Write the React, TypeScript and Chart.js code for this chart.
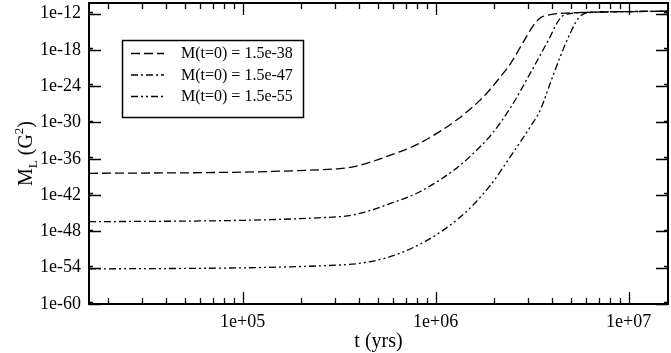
import React, { useEffect, useRef } from "react";
import { Chart, registerables } from "chart.js";

Chart.register(...registerables);

const FONT = "'Liberation Serif', 'Times New Roman', serif";

// time (years) for each series, and log10(M_L) values
const tA = [1.6e4, 3.13e5, 6.56e5, 8.34e5, 1.29e6, 1.70e6, 1.92e6, 2.16e6, 2.44e6, 2.86e6, 3.22e6, 3.49e6, 3.93e6, 4.99e6, 7.13e6, 1.6e7];
const mA = [-38.4, -37.66, -34.8, -33.36, -29.55, -26.3, -24.5, -22.5, -20.3, -16.6, -13.9, -12.71, -12.17, -11.89, -11.75, -11.6];

const tB = [1.6e4, 3.21e5, 6.56e5, 8.34e5, 1.29e6, 1.51e6, 1.92e6, 2.44e6, 3.10e6, 3.93e6, 4.26e6, 4.52e6, 4.99e6, 6.31e6, 1.6e7];
const mB = [-46.4, -45.56, -42.8, -41.4, -37.5, -35.6, -32.2, -27.6, -21.8, -15.76, -13.54, -12.45, -12.0, -11.8, -11.6];

const tC = [1.6e4, 3.21e5, 6.56e5, 1.29e6, 1.92e6, 2.44e6, 3.10e6, 3.49e6, 3.93e6, 4.43e6, 4.99e6, 5.51e6, 6.08e6, 7.94e6, 1.6e7];
const mC = [-54.2, -53.55, -51.6, -46.1, -40.4, -35.63, -30.66, -27.9, -23.47, -19.07, -15.2, -12.71, -11.88, -11.7, -11.6];

const seriesLabels = ["M(t=0) = 1.5e-38", "M(t=0) = 1.5e-47", "M(t=0) = 1.5e-55"];
const seriesDashes = [[9, 4], [7, 3, 2, 3], [7, 3, 2, 3, 2, 3]];

const xMajor = [1e5, 1e6, 1e7];
const xTickLabels = ["1e+05", "1e+06", "1e+07"];
const yTicks = [-60, -54, -48, -42, -36, -30, -24, -18, -12];

const overlay = {
  id: "overlay",
  afterDraw(chart: any) {
    const ctx = chart.ctx;
    const { left, right, top, bottom } = chart.chartArea;
    const xs = chart.scales.x;
    const ys = chart.scales.y;
    ctx.save();
    ctx.strokeStyle = "#000";
    ctx.fillStyle = "#000";
    // frame
    ctx.lineWidth = 2;
    ctx.strokeRect(left, top, right - left, bottom - top);
    // x ticks
    ctx.lineWidth = 1.3;
    ctx.beginPath();
    for (let d = 1e4; d <= 1e7; d *= 10) {
      for (let k = 1; k <= 9; k++) {
        const v = d * k;
        if (v < xs.min || v > xs.max) continue;
        const px = Math.round(xs.getPixelForValue(v)) + 0.5;
        const len = k === 1 ? 12 : 6;
        ctx.moveTo(px, bottom);
        ctx.lineTo(px, bottom - len);
        ctx.moveTo(px, top);
        ctx.lineTo(px, top + len);
      }
    }
    // y ticks
    for (const v of yTicks) {
      const py = Math.round(ys.getPixelForValue(v)) + 0.5;
      ctx.moveTo(left, py);
      ctx.lineTo(left + 12, py);
      ctx.moveTo(right, py);
      ctx.lineTo(right - 12, py);
      const py2 = Math.round(ys.getPixelForValue(v + 0.3)) + 0.5;
      if (v + 0.3 < ys.max) {
        ctx.moveTo(left, py2);
        ctx.lineTo(left + 4, py2);
        ctx.moveTo(right, py2);
        ctx.lineTo(right - 4, py2);
      }
    }
    ctx.stroke();

    // legend
    ctx.lineWidth = 1.5;
    ctx.strokeRect(122.5, 40.5, 181, 77);
    ctx.font = `16px ${FONT}`;
    ctx.textBaseline = "middle";
    ctx.textAlign = "left";
    const rows = [53, 74.5, 96];
    rows.forEach((ry, i) => {
      ctx.save();
      ctx.lineWidth = 1.3;
      ctx.setLineDash(seriesDashes[i]);
      ctx.beginPath();
      ctx.moveTo(131, ry + 0.5);
      ctx.lineTo(164, ry + 0.5);
      ctx.stroke();
      ctx.restore();
      ctx.fillText(seriesLabels[i], 181, ry + 1);
    });

    // x title
    ctx.font = `20px ${FONT}`;
    ctx.textAlign = "center";
    ctx.textBaseline = "alphabetic";
    ctx.fillText("t (yrs)", (left + right) / 2, 347);

    // y title (rotated, with subscript and superscript)
    ctx.save();
    ctx.translate(32, (top + bottom) / 2);
    ctx.rotate(-Math.PI / 2);
    const big = `20px ${FONT}`;
    const small = `13px ${FONT}`;
    const parts = [
      { t: "M", f: big, dy: 0 },
      { t: "L", f: small, dy: 5 },
      { t: " (G", f: big, dy: 0 },
      { t: "2", f: small, dy: -9 },
      { t: ")", f: big, dy: 0 },
    ];
    let total = 0;
    for (const p of parts) {
      ctx.font = p.f;
      total += ctx.measureText(p.t).width;
    }
    let cx = -total / 2;
    ctx.textAlign = "left";
    for (const p of parts) {
      ctx.font = p.f;
      ctx.fillText(p.t, cx, p.dy);
      cx += ctx.measureText(p.t).width;
    }
    ctx.restore();
    ctx.restore();
  },
};

export default function App() {
  const ref = useRef<HTMLCanvasElement | null>(null);
  useEffect(() => {
    document.body.style.margin = "0";
    const mk = (t: number[], m: number[]) => t.map((x, i) => ({ x, y: m[i] }));
    const data = [mk(tA, mA), mk(tB, mB), mk(tC, mC)];
    const chart = new Chart(ref.current as HTMLCanvasElement, {
      type: "line",
      data: {
        datasets: data.map((d, i) => ({
          label: seriesLabels[i],
          data: d,
          borderColor: "#000",
          borderWidth: 1.3,
          borderDash: seriesDashes[i],
          pointRadius: 0,
          fill: false,
          cubicInterpolationMode: "monotone" as const,
        })),
      },
      options: {
        responsive: false,
        animation: false,
        devicePixelRatio: 1,
        layout: { padding: { top: 3, right: 3, left: 0, bottom: 0 } },
        plugins: { legend: { display: false }, tooltip: { enabled: false } },
        scales: {
          x: {
            type: "logarithmic",
            min: 1.6e4,
            max: 1.6e7,
            afterBuildTicks: (s: any) => {
              s.ticks = xMajor.map((v) => ({ value: v }));
            },
            afterFit: (s: any) => {
              s.height = 49;
              s.paddingLeft = 0;
              s.paddingRight = 0;
              s.paddingTop = 0;
              s.paddingBottom = 0;
            },
            grid: { display: false, drawTicks: false },
            border: { display: false },
            ticks: {
              autoSkip: false,
              maxRotation: 0,
              padding: 7,
              color: "#000",
              font: { family: FONT, size: 18 },
              callback: (v: any) => {
                const i = xMajor.indexOf(Number(v));
                return i >= 0 ? xTickLabels[i] : "";
              },
            },
          },
          y: {
            type: "linear",
            min: -60,
            max: -10.25,
            afterBuildTicks: (s: any) => {
              s.ticks = yTicks.map((v) => ({ value: v }));
            },
            afterFit: (s: any) => {
              s.width = 89;
              s.paddingLeft = 0;
              s.paddingRight = 0;
              s.paddingTop = 0;
              s.paddingBottom = 0;
            },
            grid: { display: false, drawTicks: false },
            border: { display: false },
            ticks: {
              padding: 8,
              color: "#000",
              font: { family: FONT, size: 18 },
              callback: (v: any) => `1e${v}`,
            },
          },
        },
      },
      plugins: [overlay],
    });
    return () => chart.destroy();
  }, []);
  return (
    <div style={{ width: 671, height: 353 }}>
      <canvas ref={ref} width={671} height={353} style={{ display: "block" }} />
    </div>
  );
}
